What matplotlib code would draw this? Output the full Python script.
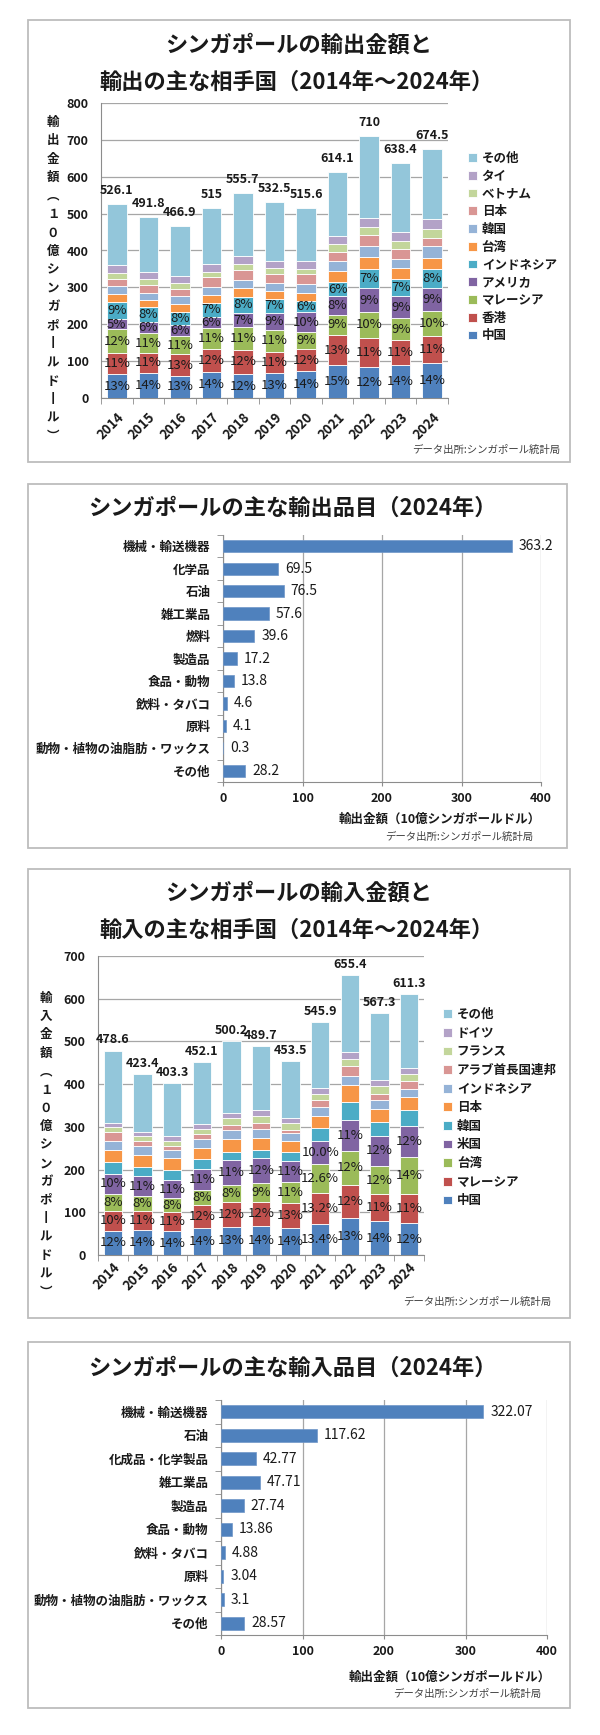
import matplotlib
matplotlib.use('Agg')
import matplotlib.pyplot as plt
from matplotlib.patches import Rectangle
import numpy as np

plt.rcParams['font.family'] = ['Noto Sans CJK JP', 'DejaVu Sans']

# ---------------- data ----------------
years = ['2014', '2015', '2016', '2017', '2018', '2019', '2020', '2021', '2022', '2023', '2024']

# exports by partner (10億SGD)
exp_totals = [526.1, 491.8, 466.9, 515, 555.7, 532.5, 515.6, 614.1, 710, 638.4, 674.5]
exp_names = ['中国', '香港', 'マレーシア', 'アメリカ', 'インドネシア', '台湾', '韓国', '日本', 'ベトナム', 'タイ', 'その他']
exp_china = [65, 68, 60, 71, 65, 67, 72, 90, 85, 89, 95]
exp_hk = [58, 54, 58, 62, 66, 59, 62, 80, 78, 68, 74]
exp_malaysia = [63, 54, 51, 57, 61, 58, 46, 56, 71, 59, 68]
exp_usa = [27, 30, 28, 31, 39, 47, 52, 50, 63, 60, 60]
exp_indonesia = [47, 40, 36, 37, 44, 37, 31, 38, 52, 47, 53]
exp_taiwan = [21, 19, 21, 21, 23, 22, 22, 30, 34, 29, 31]
exp_korea = [23, 20, 22, 23, 21, 22, 25, 27, 29, 25, 32]
exp_japan = [20, 21, 20, 25, 27, 24, 25, 25, 30, 26, 21]
exp_vietnam = [16, 18, 16, 16, 18, 17, 16, 22, 23, 23, 25]
exp_thai = [20, 19, 19, 21, 20, 19, 20, 21, 24, 25, 26]
exp_others = [166.1, 148.8, 135.9, 151, 171.7, 160.5, 144.6, 175.1, 221, 187.4, 189.5]

exp_pct_china = ['13%', '14%', '13%', '14%', '12%', '13%', '14%', '15%', '12%', '14%', '14%']
exp_pct_hk = ['11%', '11%', '13%', '12%', '12%', '11%', '12%', '13%', '11%', '11%', '11%']
exp_pct_malaysia = ['12%', '11%', '11%', '11%', '11%', '11%', '9%', '9%', '10%', '9%', '10%']
exp_pct_usa = ['5%', '6%', '6%', '6%', '7%', '9%', '10%', '8%', '9%', '9%', '9%']
exp_pct_indonesia = ['9%', '8%', '8%', '7%', '8%', '7%', '6%', '6%', '7%', '7%', '8%']

# imports by partner
imp_totals = [478.6, 423.4, 403.3, 452.1, 500.2, 489.7, 453.5, 545.9, 655.4, 567.3, 611.3]
imp_names = ['中国', 'マレーシア', '台湾', '米国', '韓国', '日本', 'インドネシア', 'アラブ首長国連邦', 'フランス', 'ドイツ', 'その他']
imp_china = [57, 58, 56, 63, 66, 67, 64, 73, 86, 79, 74]
imp_malaysia = [47, 46, 44, 54, 59, 58, 58, 72, 79, 63, 68]
imp_taiwan = [39, 34, 33, 36, 40, 43, 50, 69, 79, 67, 87]
imp_usa = [47, 46, 43, 48, 57, 59, 48, 54, 72, 69, 73]
imp_korea = [28, 23, 22, 23, 20, 18, 22, 30, 42, 33, 38]
imp_japan = [28, 26, 30, 26, 30, 28, 24, 28, 39, 30, 29]
imp_indonesia = [22, 22, 18, 22, 20, 21, 20, 21, 23, 21, 19]
imp_uae = [20, 12, 10, 11, 13, 15, 7, 16, 22, 16, 20]
imp_france = [11, 11, 12, 11, 15, 17, 15, 15, 18, 17, 15]
imp_germany = [11, 11, 11, 13, 13, 14, 13, 13, 15, 15, 14]
imp_others = [168.6, 134.4, 124.3, 145.1, 167.2, 149.7, 132.5, 154.9, 180.4, 157.3, 174.3]

imp_pct_china = ['12%', '14%', '14%', '14%', '13%', '14%', '14%', '13.4%', '13%', '14%', '12%']
imp_pct_malaysia = ['10%', '11%', '11%', '12%', '12%', '12%', '13%', '13.2%', '12%', '11%', '11%']
imp_pct_taiwan = ['8%', '8%', '8%', '8%', '8%', '9%', '11%', '12.6%', '12%', '12%', '14%']
imp_pct_usa = ['10%', '11%', '11%', '11%', '11%', '12%', '11%', '10.0%', '11%', '12%', '12%']

# products 2024
exp_items = ['機械・輸送機器', '化学品', '石油', '雑工業品', '燃料', '製造品', '食品・動物',
             '飲料・タバコ', '原料', '動物・植物の油脂肪・ワックス', 'その他']
exp_item_vals = [363.2, 69.5, 76.5, 57.6, 39.6, 17.2, 13.8, 4.6, 4.1, 0.3, 28.2]
imp_items = ['機械・輸送機器', '石油', '化成品・化学製品', '雑工業品', '製造品', '食品・動物',
             '飲料・タバコ', '原料', '動物・植物の油脂肪・ワックス', 'その他']
imp_item_vals = [322.07, 117.62, 42.77, 47.71, 27.74, 13.86, 4.88, 3.04, 3.1, 28.57]

# ---------------- style ----------------
C_BLUE = '#4F81BD'
C_RED = '#C0504D'
C_GREEN = '#9BBB59'
C_PURPLE = '#8064A2'
C_TEAL = '#4BACC6'
C_ORANGE = '#F79646'
C_PERI = '#95B3D7'
C_PINK = '#D99694'
C_LGREEN = '#C3D69B'
C_LAV = '#B3A2C7'
C_OTHER = '#93C6DA'
GRID = '#A6A6A6'
TXT = '#1a1a1a'

W, H = 600, 1735
fig = plt.figure(figsize=(W / 100, H / 100), dpi=100)
fig.patch.set_facecolor('white')


def fx(x):
    return x / W


def fy(y):
    return 1 - y / H


def ax_rect(x0, y0, x1, y1):
    return [x0 / W, 1 - y1 / H, (x1 - x0) / W, (y1 - y0) / H]


def panel_box(x0, y0, x1, y1):
    fig.add_artist(Rectangle((fx(x0), fy(y1)), (x1 - x0) / W, (y1 - y0) / H,
                             transform=fig.transFigure, fill=False,
                             edgecolor='#bdbdbd', lw=1.3))


def vertical_text(x, y0, step, chars, size=9):
    for i, ch in enumerate(chars):
        fig.text(fx(x), fy(y0 + i * step), ch, ha='center', va='center',
                 fontsize=size, fontweight='bold', color=TXT)


def stacked_chart(rect, series, names, colors, pct, totals, ymax, ystep, top_off,
                  legend_xy, legend_spacing, xpad):
    ax = fig.add_axes(rect)
    x = np.arange(len(years))
    bottom = np.zeros(len(years))
    handles = []
    for vals, name, col in zip(series, names, colors):
        vals = np.asarray(vals, dtype=float)
        bars = ax.bar(x, vals, 0.62, bottom=bottom, color=col, edgecolor='white',
                      linewidth=0.6, label=name, zorder=3)
        handles.append(bars)
        if name in pct:
            ax.bar_label(bars, labels=pct[name], label_type='center', fontsize=9.5,
                         color=TXT, zorder=5)
        bottom = bottom + vals
    for xi, t, b in zip(x, totals, bottom):
        ax.annotate(f"{t:g}", (xi, b), xytext=(0, top_off), textcoords='offset points',
                    ha='center', va='bottom', fontsize=9, fontweight='bold', color=TXT)
    ax.set_xlim(-0.5, len(years) - 0.5)
    ax.set_ylim(0, ymax)
    ax.set_yticks(np.arange(0, ymax + 1, ystep))
    ax.yaxis.grid(True, color=GRID, lw=0.9, zorder=0)
    ax.set_axisbelow(True)
    for s in ['top', 'right']:
        ax.spines[s].set_visible(False)
    ax.spines['left'].set_color('#8c8c8c')
    ax.spines['bottom'].set_color('#8c8c8c')
    ax.set_xticks(x)
    ax.set_xticklabels(years, rotation=45, ha='right', va='top', rotation_mode='anchor')
    ax.set_xticks(np.arange(-0.5, len(years), 1), minor=True)
    ax.tick_params(axis='x', which='major', length=0, pad=xpad, labelsize=9.5)
    ax.tick_params(axis='x', which='minor', length=4, color='#8c8c8c')
    ax.tick_params(axis='y', length=0, pad=9, labelsize=9)
    for lbl in ax.get_xticklabels() + ax.get_yticklabels():
        lbl.set_fontweight('bold')
        lbl.set_color(TXT)
    leg = ax.legend(handles[::-1], names[::-1], loc='upper left',
                    bbox_to_anchor=(fx(legend_xy[0]), fy(legend_xy[1])),
                    bbox_transform=fig.transFigure, frameon=False,
                    prop={'size': 9, 'weight': 'bold'}, handlelength=0.7,
                    handleheight=0.7, handletextpad=0.4, labelspacing=legend_spacing,
                    borderaxespad=0, borderpad=0)
    for t in leg.get_texts():
        t.set_color(TXT)
    return ax


def barh_chart(rect, items, vals, xlabel_pos):
    ax = fig.add_axes(rect)
    y = np.arange(len(items))
    bars = ax.barh(y, vals, height=0.55, color=C_BLUE, edgecolor='#6f96c8',
                   linewidth=0.5, zorder=3)
    ax.bar_label(bars, labels=[f"{v:g}" for v in vals], padding=5, fontsize=10,
                 color=TXT)
    ax.set_ylim(len(items) - 0.5, -0.5)
    ax.set_xlim(0, 400)
    ax.set_xticks([0, 100, 200, 300, 400])
    ax.xaxis.grid(True, color=GRID, lw=0.9, zorder=0)
    ax.set_axisbelow(True)
    for s in ['top', 'right']:
        ax.spines[s].set_visible(False)
    ax.spines['left'].set_color('#8c8c8c')
    ax.spines['bottom'].set_color('#8c8c8c')
    ax.set_yticks(y)
    ax.set_yticklabels(items)
    ax.set_yticks(np.arange(-0.5, len(items), 1), minor=True)
    ax.tick_params(axis='y', which='major', length=0, pad=9, labelsize=9)
    ax.tick_params(axis='y', which='minor', length=4, color='#8c8c8c')
    ax.tick_params(axis='x', length=3, color='#8c8c8c', labelsize=9, pad=4)
    for lbl in ax.get_xticklabels() + ax.get_yticklabels():
        lbl.set_fontweight('bold')
        lbl.set_color(TXT)
    ax.set_xlabel('輸出金額（10億シンガポールドル）', fontsize=9, fontweight='bold', color=TXT)
    ax.xaxis.set_label_coords(*xlabel_pos)
    return ax


# ---------------- panel 1: exports by partner ----------------
panel_box(28, 20, 570, 462)
fig.text(fx(299), fy(45), 'シンガポールの輸出金額と', ha='center', va='center',
         fontsize=16, fontweight='bold', color=TXT)
fig.text(fx(297), fy(82), '輸出の主な相手国（2014年～2024年）', ha='center', va='center',
         fontsize=16, fontweight='bold', color=TXT)
exp_series = [exp_china, exp_hk, exp_malaysia, exp_usa, exp_indonesia, exp_taiwan,
              exp_korea, exp_japan, exp_vietnam, exp_thai, exp_others]
exp_colors = [C_BLUE, C_RED, C_GREEN, C_PURPLE, C_TEAL, C_ORANGE, C_PERI, C_PINK,
              C_LGREEN, C_LAV, C_OTHER]
exp_pct = {'中国': exp_pct_china, '香港': exp_pct_hk, 'マレーシア': exp_pct_malaysia,
           'アメリカ': exp_pct_usa, 'インドネシア': exp_pct_indonesia}
stacked_chart(ax_rect(101, 103, 448, 398), exp_series, exp_names, exp_colors, exp_pct,
              exp_totals, 800, 100, 5, (468, 152), 0.38, 9)
vertical_text(53, 122, 18.5, list('輸出金額︵１０億シンガポ丨ルド丨ル︶'))
fig.text(fx(560), fy(450), 'データ出所:シンガポール統計局', ha='right', va='center',
         fontsize=7.5, color='#404040')

# ---------------- panel 2: export products ----------------
panel_box(28, 484, 567, 848)
fig.text(fx(292), fy(508), 'シンガポールの主な輸出品目（2024年）', ha='center', va='center',
         fontsize=16, fontweight='bold', color=TXT)
barh_chart(ax_rect(223, 535, 541, 782), exp_items, exp_item_vals, (0.68, -0.125))
fig.text(fx(533), fy(837), 'データ出所:シンガポール統計局', ha='right', va='center',
         fontsize=7.5, color='#404040')

# ---------------- panel 3: imports by partner ----------------
panel_box(28, 869, 570, 1318)
fig.text(fx(299), fy(893), 'シンガポールの輸入金額と', ha='center', va='center',
         fontsize=16, fontweight='bold', color=TXT)
fig.text(fx(297), fy(930), '輸入の主な相手国（2014年～2024年）', ha='center', va='center',
         fontsize=16, fontweight='bold', color=TXT)
imp_series = [imp_china, imp_malaysia, imp_taiwan, imp_usa, imp_korea, imp_japan,
              imp_indonesia, imp_uae, imp_france, imp_germany, imp_others]
imp_colors = [C_BLUE, C_RED, C_GREEN, C_PURPLE, C_TEAL, C_ORANGE, C_PERI, C_PINK,
              C_LGREEN, C_LAV, C_OTHER]
imp_pct = {'中国': imp_pct_china, 'マレーシア': imp_pct_malaysia, '台湾': imp_pct_taiwan,
           '米国': imp_pct_usa}
stacked_chart(ax_rect(98, 956, 424, 1255), imp_series, imp_names, imp_colors, imp_pct,
              imp_totals, 700, 100, 3, (443, 1008), 0.45, 4)
vertical_text(46, 998, 18.4, list('輸入金額︵１０億シンガポ丨ルドル︶'))
fig.text(fx(551), fy(1302), 'データ出所:シンガポール統計局', ha='right', va='center',
         fontsize=7.5, color='#404040')

# ---------------- panel 4: import products ----------------
panel_box(28, 1342, 570, 1708)
fig.text(fx(292), fy(1368), 'シンガポールの主な輸入品目（2024年）', ha='center', va='center',
         fontsize=16, fontweight='bold', color=TXT)
barh_chart(ax_rect(221, 1400, 547, 1635), imp_items, imp_item_vals, (0.70, -0.15))
fig.text(fx(541), fy(1694), 'データ出所:シンガポール統計局', ha='right', va='center',
         fontsize=7.5, color='#404040')

fig.savefig('out.png', dpi=100, facecolor='white')
